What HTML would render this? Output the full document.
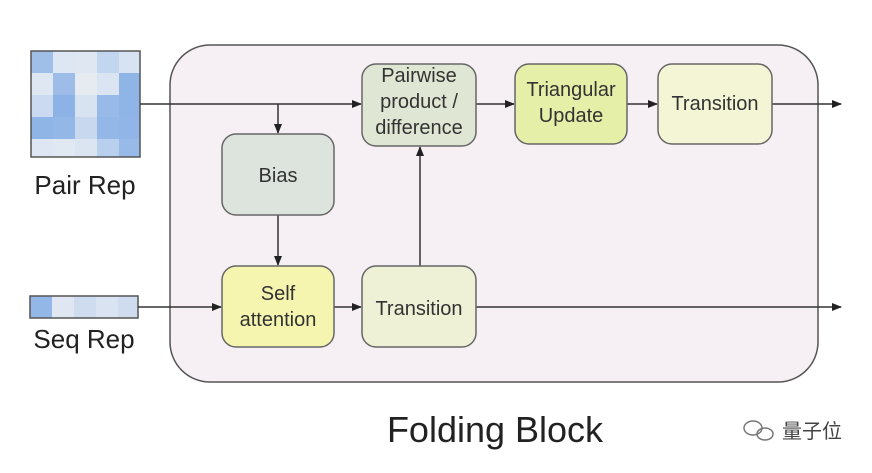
<!DOCTYPE html>
<html><head><style>
body{margin:0;background:#fff;}
svg text{font-family:"Liberation Sans","Noto Sans CJK SC",sans-serif;}
</style></head><body>
<svg width="872" height="468" viewBox="0 0 872 468" xmlns="http://www.w3.org/2000/svg">
<defs><marker id="a" markerWidth="10" markerHeight="10" refX="9" refY="5" orient="auto" markerUnits="userSpaceOnUse"><path d="M0,1 L10,5 L0,9 z" fill="#222"/></marker></defs>
<rect width="872" height="468" fill="#fff"/>
<rect x="170" y="45" width="648" height="337" rx="40" fill="#f6eff3" stroke="#555" stroke-width="1.5"/>
<g>
<rect x="31" y="51" width="109" height="106" fill="#c9d9f0"/>
<rect x="31" y="51" width="22" height="22" fill="#9fbfe8"/><rect x="53" y="51" width="22" height="22" fill="#dde6f3"/><rect x="75" y="51" width="22" height="22" fill="#dfe7f3"/><rect x="97" y="51" width="22" height="22" fill="#c3d6ef"/><rect x="119" y="51" width="21" height="22" fill="#d7e2f2"/>
<rect x="31" y="73" width="22" height="22" fill="#dfe7f2"/><rect x="53" y="73" width="22" height="22" fill="#9dbde8"/><rect x="75" y="73" width="22" height="22" fill="#e6ebf2"/><rect x="97" y="73" width="22" height="22" fill="#dbe4f2"/><rect x="119" y="73" width="21" height="22" fill="#8fb5e6"/>
<rect x="31" y="95" width="22" height="22" fill="#cbdaf0"/><rect x="53" y="95" width="22" height="22" fill="#8db3e6"/><rect x="75" y="95" width="22" height="22" fill="#d8e3f1"/><rect x="97" y="95" width="22" height="22" fill="#98bae8"/><rect x="119" y="95" width="21" height="22" fill="#8fb5e6"/>
<rect x="31" y="117" width="22" height="22" fill="#8fb4e6"/><rect x="53" y="117" width="22" height="22" fill="#93b7e7"/><rect x="75" y="117" width="22" height="22" fill="#c7d8ef"/><rect x="97" y="117" width="22" height="22" fill="#93b7e7"/><rect x="119" y="117" width="21" height="22" fill="#90b5e6"/>
<rect x="31" y="139" width="22" height="18" fill="#dde6f2"/><rect x="53" y="139" width="22" height="18" fill="#e0e8f2"/><rect x="75" y="139" width="22" height="18" fill="#dbe4f1"/><rect x="97" y="139" width="22" height="18" fill="#b9cfee"/><rect x="119" y="139" width="21" height="18" fill="#98bae8"/>
<rect x="31" y="51" width="109" height="106" fill="none" stroke="#555" stroke-width="1.5"/>
</g>
<text x="85" y="194" font-size="26" text-anchor="middle" fill="#222">Pair Rep</text>
<g>
<rect x="30" y="296" width="108" height="22" fill="#cfdcf0"/>
<rect x="30" y="296" width="22" height="22" fill="#93b7e7"/><rect x="52" y="296" width="22" height="22" fill="#e0e7f2"/><rect x="96" y="296" width="22" height="22" fill="#d9e3f2"/>
<rect x="30" y="296" width="108" height="22" fill="none" stroke="#555" stroke-width="1.5"/>
</g>
<text x="84" y="348" font-size="26" text-anchor="middle" fill="#222">Seq Rep</text>
<g stroke="#333" stroke-width="1.5" fill="none">
<line x1="140" y1="104" x2="361" y2="104" marker-end="url(#a)"/>
<line x1="476" y1="104" x2="514" y2="104" marker-end="url(#a)"/>
<line x1="627" y1="104" x2="657" y2="104" marker-end="url(#a)"/>
<line x1="772" y1="104" x2="841" y2="104" marker-end="url(#a)"/>
<line x1="278" y1="104" x2="278" y2="133" marker-end="url(#a)"/>
<line x1="278" y1="215" x2="278" y2="265" marker-end="url(#a)"/>
<line x1="138" y1="307" x2="221" y2="307" marker-end="url(#a)"/>
<line x1="334" y1="307" x2="361" y2="307" marker-end="url(#a)"/>
<line x1="476" y1="307" x2="841" y2="307" marker-end="url(#a)"/>
<line x1="420" y1="266" x2="420" y2="147" marker-end="url(#a)"/>
</g>
<g stroke="#666" stroke-width="1.5">
<rect x="362" y="64" width="114" height="82" rx="14" fill="#dfe6d3"/>
<rect x="515" y="64" width="112" height="80" rx="14" fill="#e6efa8"/>
<rect x="658" y="64" width="114" height="80" rx="14" fill="#f4f5d5"/>
<rect x="222" y="134" width="112" height="81" rx="14" fill="#dde3dd"/>
<rect x="222" y="266" width="112" height="81" rx="14" fill="#f6f5b0"/>
<rect x="362" y="266" width="114" height="81" rx="14" fill="#eef1d6"/>
</g>
<g font-size="20" fill="#333" text-anchor="middle">
<text x="419" y="82">Pairwise</text><text x="419" y="108">product /</text><text x="419" y="134">difference</text>
<text x="571" y="96">Triangular</text><text x="571" y="122">Update</text>
<text x="715" y="110">Transition</text>
<text x="278" y="182">Bias</text>
<text x="278" y="300">Self</text><text x="278" y="326">attention</text>
<text x="419" y="315">Transition</text>
</g>
<text x="495" y="442" font-size="36" text-anchor="middle" fill="#222">Folding Block</text>
<g fill="none" stroke="#777" stroke-width="1.5"><ellipse cx="753" cy="428" rx="9" ry="7"/><ellipse cx="765" cy="434" rx="8" ry="6"/></g>
<text x="782" y="438" font-size="20" fill="#444">量子位</text>
</svg>
</body></html>
